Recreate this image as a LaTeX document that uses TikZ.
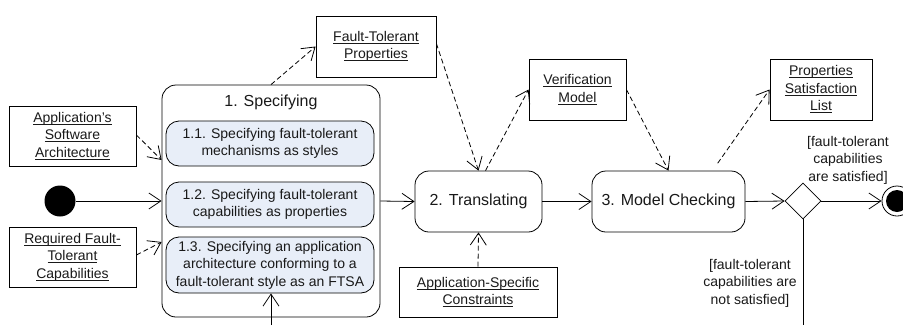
\documentclass[tikz,border=0pt]{standalone}
\usepackage{fontspec}
\setmainfont{Liberation Sans}
\usetikzlibrary{arrows.meta,shapes.geometric}
\definecolor{subfill}{RGB}{232,238,248}
\newcommand{\ulx}[1]{\setbox0\hbox{#1}\rlap{\rule[-2.2pt]{\wd0}{0.8pt}}\box0}
\begin{document}
\begin{tikzpicture}[x=1pt,y=-1pt,
  txt/.style={font=\fontsize{14}{17.5}\selectfont, align=center, text=black!90, inner sep=0pt},
  bigtxt/.style={font=\fontsize{16}{19}\selectfont, align=center, text=black!90, inner sep=0pt},
  obj/.style={txt, draw, line width=0.8pt},
  action/.style={bigtxt, draw, line width=0.8pt, rounded corners=14pt},
  subact/.style={txt, draw, line width=0.8pt, rounded corners=13pt, fill=subfill, minimum width=208pt},
  arr/.style={-{Straight Barb[length=12pt,width=16pt]}, line width=0.8pt},
  dep/.style={arr, dash pattern=on 5pt off 3pt},
  plain/.style={line width=0.8pt}]
\useasboundingbox (0,0) rectangle (903,325);

% object nodes
\node[obj, minimum width=127pt, minimum height=60pt] (appsw) at (72.5,136) {\ulx{Application’s}\\\ulx{Software}\\\ulx{Architecture}};
\node[obj, minimum width=127pt, minimum height=60pt] (reqft) at (72.5,257) {\ulx{Required Fault-}\\\ulx{Tolerant}\\\ulx{Capabilities}};
\node[obj, minimum width=120pt, minimum height=61pt] (ftp) at (376,46.5) {\ulx{Fault-Tolerant}\\\ulx{Properties}};
\node[obj, minimum width=97pt, minimum height=61pt] (vm) at (577.5,89.5) {\ulx{Verification}\\\ulx{Model}};
\node[obj, minimum width=158pt, minimum height=50pt] (asc) at (478,292) {\ulx{Application-Specific}\\\ulx{Constraints}};
\node[obj, minimum width=102pt, minimum height=61pt] (psl) at (821,89.5) {\ulx{Properties}\\\ulx{Satisfaction}\\\ulx{List}};

% start / end
\node[circle, fill=black, minimum size=31pt, inner sep=0pt] (start) at (60,201) {};
\node[circle, draw, line width=0.8pt, fill=white, minimum size=30pt, inner sep=0pt] (end) at (897,201) {};
\fill (end.center) circle (11pt);

% actions
\node[action, minimum width=218pt, minimum height=232pt] (spec) at (271,201) {};
\node[bigtxt] (spectitle) at (271,102) {1. Specifying};
\node[subact, minimum height=45pt] (s11) at (270,143.5) {1.1. Specifying fault-tolerant\\mechanisms as styles};
\node[subact, minimum height=45pt] (s12) at (270,204.5) {1.2. Specifying fault-tolerant\\capabilities as properties};
\node[subact, minimum height=56pt] (s13) at (270,265) {1.3. Specifying an application\\architecture conforming to a\\fault-tolerant style as an FTSA};
\node[action, minimum width=127pt, minimum height=61pt] (trans) at (478.5,201.5) {2. Translating};
\node[action, minimum width=153pt, minimum height=61pt] (mc) at (668.5,201.5) {3. Model Checking};
\node[diamond, draw, line width=0.8pt, minimum width=36pt, minimum height=36pt, inner sep=0pt] (dec) at (803,201) {};

% guard labels
\node[txt] (gyes) at (848,160) {[fault-tolerant\\capabilities\\are satisfied]};
\node[txt] (gno) at (750,283) {[fault-tolerant\\capabilities are\\not satisfied]};

% free ends
\coordinate (inbot) at (271,325);
\coordinate (outbot) at (803,325);

% control flow
\draw[arr] (start) -- (spec.west);
\draw[arr] (inbot) -- (s13.south -| inbot);
\draw[arr] (spec.east) -- (trans.west);
\draw[arr] (trans.east) -- (mc.west);
\draw[arr] (mc.east) -- (dec.west);
\draw[arr] (dec.east) -- (end.west);
\draw[plain] (dec.south) -- (outbot);

% object flows
\draw[dep] (appsw.east |- 0,135) -- ([yshift=41pt]spec.west);
\draw[dep] ([yshift=2pt]reqft.east) -- ([yshift=-41pt]spec.west);
\draw[dep] (spec.north) -- (ftp.west);
\draw[dep] ([yshift=3pt]ftp.east) -- (trans.north);
\draw[dep] ([xshift=7pt]trans.north) -- (vm.west);
\draw[dep] (asc.north) -- (trans.south);
\draw[dep] (vm.east) -- (mc.north);
\draw[dep, shorten <=9pt] ([xshift=44pt]mc.north) -- (psl.west);
\end{tikzpicture}
\end{document}
